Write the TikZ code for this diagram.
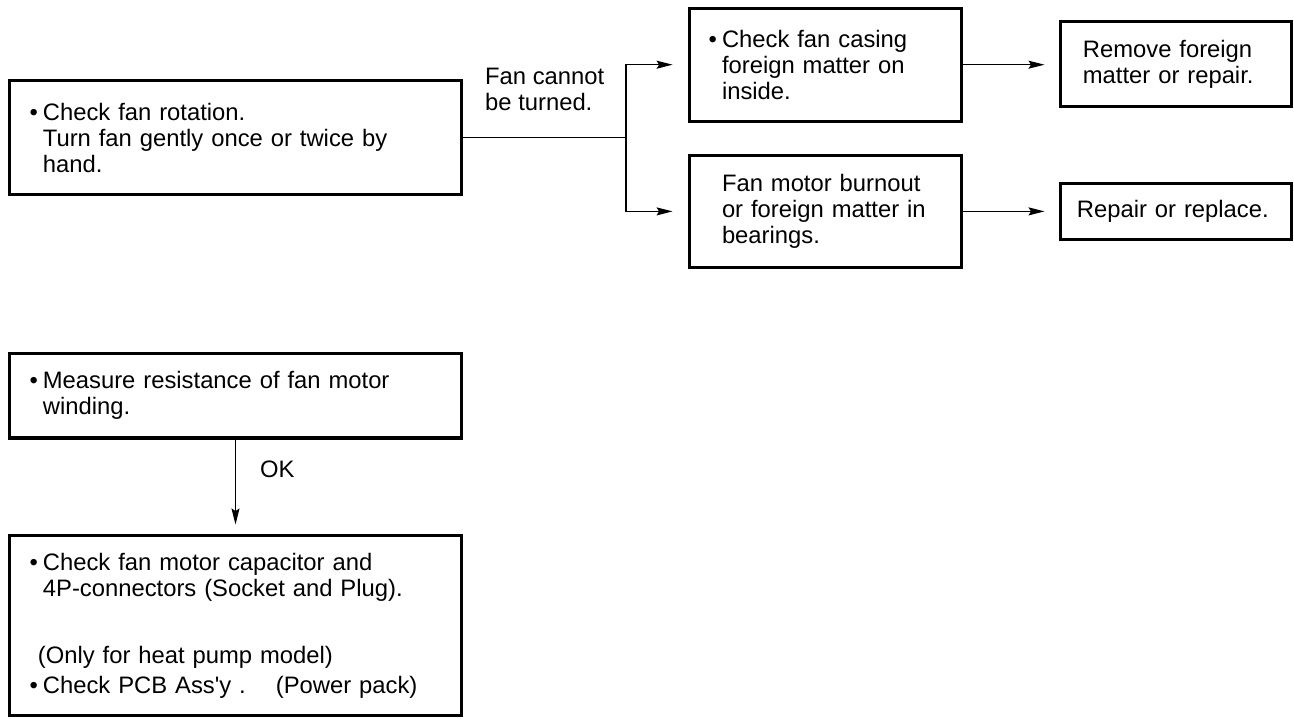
\documentclass[tikz,border=0pt]{standalone}
\usepackage{fontspec}
\newfontfamily\diagfont{Liberation Sans}
\usetikzlibrary{arrows.meta}
\newcommand\dgbullet{\makebox[0pt][r]{•\hspace{5pt}}}
\tikzset{
  dgtext/.style={font=\diagfont\fontsize{23.8}{26}\selectfont},
  box/.style={dgtext, draw, line width=3.2pt, align=left, inner ysep=0pt, anchor=center},
  conn/.style={line width=1.3pt},
  arr/.style={conn, -{Stealth[length=16pt,width=8pt,inset=2.5pt]}},
  lbl/.style={dgtext, inner sep=0pt, align=left}
}
\begin{document}
\begin{tikzpicture}[x=1pt,y=-1pt]
\useasboundingbox (0,0) rectangle (1294,719);
% boxes
\node[box, minimum width=452pt, minimum height=114pt, inner xsep=33.4pt, text width=385.2pt] (b1) at (235.5,137.6)
  {\dgbullet Check fan rotation.\\Turn fan gently once or twice by\\hand.};
\node[box, minimum width=272pt, minimum height=113pt, inner xsep=32.4pt, text width=207.2pt] (b2) at (825.6,64.7)
  {\dgbullet Check fan casing\\foreign matter on\\inside.};
\node[box, minimum width=272pt, minimum height=111.5pt, inner xsep=32.4pt, text width=207.2pt] (b3) at (825.6,211.4)
  {Fan motor burnout\\or foreign matter in\\bearings.};
\node[box, minimum width=231pt, minimum height=85pt, inner xsep=22.4pt, text width=186.2pt] (b4) at (1176,64)
  {Remove foreign\\matter or repair.};
\node[box, minimum width=231pt, minimum height=56pt, inner xsep=16.4pt, text width=198.2pt] (b5) at (1176,211.5)
  {Repair or replace.};
\node[box, minimum width=452pt, minimum height=84.7pt, inner xsep=33.4pt, text width=385.2pt] (b6) at (235.5,395.7)
  {\dgbullet Measure resistance of fan motor\\winding.};
\node[box, minimum width=452pt, minimum height=180pt, inner xsep=33.4pt, text width=385.2pt] (b7) at (235.5,625.5)
  {\dgbullet Check fan motor capacitor and\\4P-connectors (Socket and Plug).\\[41pt]\hspace*{-5pt}(Only for heat pump model)\\[4pt]\dgbullet\makebox[233pt][l]{Check PCB Ass'y .}(Power pack)};
% labels
\node[lbl, anchor=north west] (lab1) at (485,67.5) {Fan cannot\\be turned.};
\node[lbl, anchor=base west] (ok) at (260,477) {OK};
% connectors
\coordinate (j) at (626,137.6);
\draw[conn] (b1.east) -- (j);
\draw[arr, shorten >=15.4pt] (j) |- (b2.west);
\draw[arr, shorten >=15.4pt] (j) |- (b3.west);
\draw[arr, shorten >=14.4pt] (b2.east) -- (b2.east -| b4.west);
\draw[arr, shorten >=14.4pt] (b3.east) -- (b3.east -| b5.west);
\draw[arr, shorten >=9.4pt] (b6.south) -- (b7.north);
\end{tikzpicture}
\end{document}
